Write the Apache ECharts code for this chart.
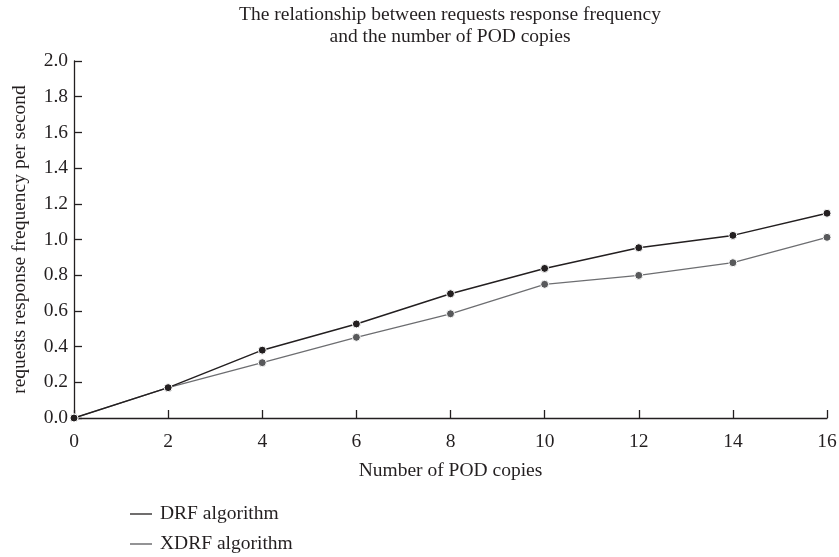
<!DOCTYPE html>
<html><head><meta charset="utf-8">
<script src="https://cdn.jsdelivr.net/npm/echarts@6/dist/echarts.min.js"></script>
<style>html,body{margin:0;padding:0;background:#fff}#c{width:839px;height:557px}</style>
</head><body><div id="c"></div>
<script>
const podCopies = [0, 2, 4, 6, 8, 10, 12, 14, 16];
const drfValues = [0, 0.17, 0.38, 0.527, 0.696, 0.838, 0.954, 1.023, 1.147];
const xdrfValues = [0, 0.17, 0.31, 0.452, 0.584, 0.749, 0.799, 0.870, 1.012];
const seriesNames = ['DRF algorithm', 'XDRF algorithm'];
const titleLines = ['The relationship between requests response frequency', 'and the number of POD copies'];

const font = 'Liberation Serif';
const fs = 19.5;
const chart = echarts.init(document.getElementById('c'), null, {renderer: 'canvas'});
const pair = (vals) => podCopies.map((x, i) => [x, vals[i]]);
chart.setOption({
  animation: false,
  backgroundColor: '#fff',
  title: {
    text: titleLines.join('\n'),
    left: 450, top: 4, textAlign: 'center', padding: 0,
    textStyle: {fontFamily: font, fontSize: fs, fontWeight: 'normal', color: '#231f20', lineHeight: 22}
  },
  grid: {left: 74, right: 12, top: 61, bottom: 139, containLabel: false, outerBoundsMode: 'none'},
  legend: {
    orient: 'vertical', left: 130, top: 504, itemGap: 10, padding: 0, height: 60,
    icon: 'rect', itemWidth: 22, itemHeight: 1.3,
    itemStyle: {borderWidth: 0},
    textStyle: {fontFamily: font, fontSize: fs, color: '#231f20', padding: [0, 0, 0, 3]},
    data: seriesNames
  },
  xAxis: {
    type: 'value', min: 0, max: 16, interval: 2,
    name: 'Number of POD copies', nameLocation: 'middle', nameGap: 43,
    nameTextStyle: {fontFamily: font, fontSize: fs, color: '#231f20', verticalAlign: 'top'},
    axisLine: {lineStyle: {color: '#231f20', width: 1.3}},
    axisTick: {inside: true, length: 8, lineStyle: {color: '#231f20', width: 1.3}},
    axisLabel: {fontFamily: font, fontSize: fs, color: '#231f20', margin: 14},
    splitLine: {show: false}
  },
  yAxis: {
    type: 'value', min: 0, max: 2, interval: 0.2,
    name: 'requests response frequency per second', nameLocation: 'middle', nameGap: 44,
    nameTextStyle: {fontFamily: font, fontSize: fs, color: '#231f20'},
    axisLine: {show: true, lineStyle: {color: '#231f20', width: 1.3}},
    axisTick: {show: true, inside: true, length: 8, lineStyle: {color: '#231f20', width: 1.3}},
    axisLabel: {fontFamily: font, fontSize: fs, color: '#231f20', margin: 6, formatter: v => v.toFixed(1)},
    splitLine: {show: false}
  },
  series: [
    {
      name: seriesNames[0], type: 'line', data: pair(drfValues),
      symbol: 'circle', symbolSize: 8, z: 3,
      lineStyle: {color: '#231f20', width: 1.5},
      itemStyle: {color: '#231f20', borderColor: '#fff', borderWidth: 1}
    },
    {
      name: seriesNames[1], type: 'line', data: pair(xdrfValues),
      symbol: 'circle', symbolSize: 8, z: 2,
      lineStyle: {color: '#6d6e71', width: 1.3},
      itemStyle: {color: '#58595b', borderColor: '#fff', borderWidth: 1}
    }
  ]
});
</script></body></html>
